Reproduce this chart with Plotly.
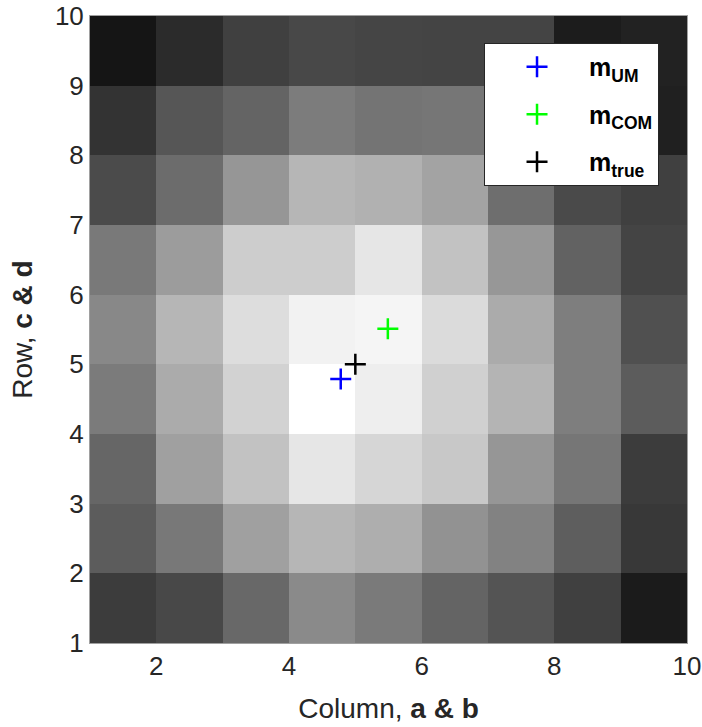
import plotly.graph_objects as go

# cell centres
cols = [1.5, 2.5, 3.5, 4.5, 5.5, 6.5, 7.5, 8.5, 9.5]
rows = [1.5, 2.5, 3.5, 4.5, 5.5, 6.5, 7.5, 8.5, 9.5]

# intensity (0 = black, 255 = white), rows from bottom (y=1.5) to top (y=9.5)
row_1 = [60, 72, 104, 138, 122, 100, 84, 64, 27]
row_2 = [92, 120, 160, 182, 174, 146, 130, 94, 56]
row_3 = [102, 160, 194, 230, 214, 200, 150, 118, 60]
row_4 = [123, 171, 210, 255, 238, 208, 180, 126, 92]
row_5 = [136, 182, 221, 242, 245, 219, 171, 126, 80]
row_6 = [121, 156, 205, 205, 230, 194, 151, 98, 68]
row_7 = [75, 108, 150, 182, 177, 163, 110, 74, 64]
row_8 = [51, 86, 100, 124, 116, 118, 116, 40, 32]
row_9 = [21, 43, 64, 72, 69, 68, 68, 28, 34]
intensity = [row_1, row_2, row_3, row_4, row_5, row_6, row_7, row_8, row_9]

# estimates
m_um = (4.78, 4.79)
m_com = (5.49, 5.51)
m_true = (5.0, 5.0)

x_ticks = [2, 4, 6, 8, 10]
y_ticks = [1, 2, 3, 4, 5, 6, 7, 8, 9, 10]

fig = go.Figure()
fig.add_trace(go.Heatmap(
    x=cols, y=rows, z=intensity, zmin=0, zmax=255,
    colorscale=[[0, "black"], [1, "white"]], showscale=False,
    hoverinfo="skip"))

for name, pt, color, grp in [
    ("<b>m<sub>UM</sub></b>", m_um, "#0000ff", "a"),
    ("<b>m<sub>COM</sub></b>", m_com, "#00ff00", "b"),
    ("<b>m<sub>true</sub></b>", m_true, "#000000", "c"),
]:
    fig.add_trace(go.Scatter(
        x=[pt[0]], y=[pt[1]], mode="markers", name=name, legendgroup=grp,
        marker=dict(symbol="cross-thin", size=15,
                    line=dict(color=color, width=2.5))))

FONT = "Liberation Sans, Arial, sans-serif"
tick_font = dict(family=FONT, size=26, color="#262626")
title_font = dict(family=FONT, size=28, color="#262626")
fig.update_layout(
    template="none",
    width=702, height=727,
    margin=dict(l=90, r=15, t=16, b=84, autoexpand=False),
    plot_bgcolor="white", paper_bgcolor="white",
    font=tick_font,
    showlegend=True,
    legend=dict(
        x=0.660, y=0.957, xanchor="left", yanchor="top",
        bgcolor="white", bordercolor="#262626", borderwidth=1,
        font=dict(family=FONT, size=25, color="black"),
        tracegroupgap=12, itemwidth=94,
    ),
    xaxis=dict(
        range=[1, 10], tickvals=x_ticks, ticks="", showgrid=False, zeroline=False,
        showline=True, linecolor="#a0a0a0", linewidth=1, mirror=True, automargin=False,
        title=dict(text="Column, <b>a & b</b>", font=title_font, standoff=18),
        tickfont=tick_font,
    ),
    yaxis=dict(
        range=[1, 10], tickvals=y_ticks, ticks="", showgrid=False, zeroline=False,
        showline=True, linecolor="#a0a0a0", linewidth=1, mirror=True, automargin=False,
        title=dict(text="Row, <b>c & d</b>", font=title_font, standoff=14),
        tickfont=tick_font,
    ),
)

fig.write_html("out.html")
